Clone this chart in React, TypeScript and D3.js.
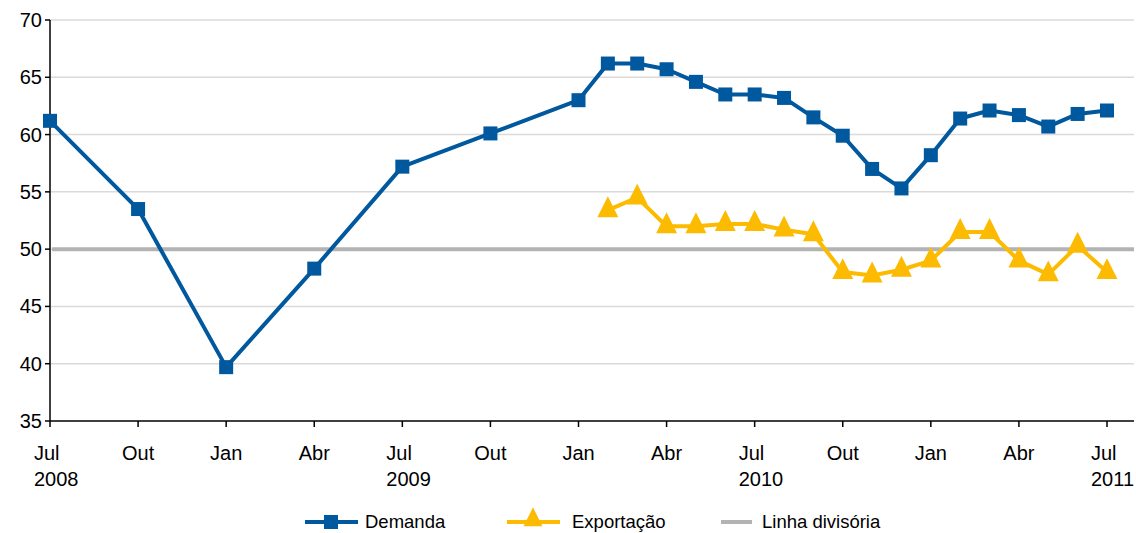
import React from "react";
import * as d3 from "d3";

// month index 0 = Jul 2008
const demandaMonths = [0, 3, 6, 9, 12, 15, 18, 19, 20, 21, 22, 23, 24, 25, 26, 27, 28, 29, 30, 31, 32, 33, 34, 35, 36];
const demandaValues = [61.2, 53.5, 39.7, 48.3, 57.2, 60.1, 63.0, 66.2, 66.2, 65.7, 64.6, 63.5, 63.5, 63.2, 61.5, 59.9, 57.0, 55.3, 58.2, 61.4, 62.1, 61.7, 60.7, 61.8, 62.1];

const exportMonths = [19, 20, 21, 22, 23, 24, 25, 26, 27, 28, 29, 30, 31, 32, 33, 34, 35, 36];
const exportValues = [53.4, 54.5, 52.0, 52.0, 52.2, 52.2, 51.7, 51.3, 48.0, 47.7, 48.2, 49.0, 51.5, 51.5, 49.0, 47.8, 50.3, 48.0];

const divisoria = 50;

const tickMonths = [0, 3, 6, 9, 12, 15, 18, 21, 24, 27, 30, 33, 36];
const tickLabels = ["Jul", "Out", "Jan", "Abr", "Jul", "Out", "Jan", "Abr", "Jul", "Out", "Jan", "Abr", "Jul"];
const yearLabels = ["2008", "", "", "", "2009", "", "", "", "2010", "", "", "", "2011"];
const yTicks = [35, 40, 45, 50, 55, 60, 65, 70];

const BLUE = "#00589e";
const YELLOW = "#fcbb00";
const GRAY = "#b3b3b3";
const FONT = "'Liberation Sans', Arial, sans-serif";

const App: React.FC = () => {
  const width = 1136;
  const height = 533;
  const left = 50;
  const rightEnd = 1134;
  const x = d3.scaleLinear().domain([0, 36]).range([left, 1107]);
  const y = d3.scaleLinear().domain([35, 70]).range([421, 20]);

  const line = d3
    .line<[number, number]>()
    .x((d) => x(d[0]))
    .y((d) => y(d[1]));

  const demanda: [number, number][] = demandaMonths.map((m, i) => [m, demandaValues[i]]);
  const exportacao: [number, number][] = exportMonths.map((m, i) => [m, exportValues[i]]);

  const tri = d3.symbol().type(d3.symbolTriangle).size(190)() as string;

  return (
    <svg width={width} height={height} style={{ position: "absolute", left: 0, top: 0 }} fontFamily={FONT}>
      <rect width={width} height={height} fill="#fff" />
      {/* grid */}
      {yTicks.slice(1).map((t) => (
        <line key={t} x1={left} x2={rightEnd} y1={y(t)} y2={y(t)} stroke="#dadada" strokeWidth={1.5} />
      ))}
      {/* y axis */}
      <line x1={left} x2={left} y1={y(70)} y2={y(35)} stroke="#000" strokeWidth={1.5} />
      {yTicks.map((t) => (
        <g key={t}>
          <line x1={left - 5} x2={left} y1={y(t)} y2={y(t)} stroke="#000" strokeWidth={1.5} />
          <text x={left - 8} y={y(t)} dy="0.35em" textAnchor="end" fontSize={20} fill="#000">
            {t}
          </text>
        </g>
      ))}
      {/* x axis */}
      <line x1={left} x2={rightEnd} y1={y(35)} y2={y(35)} stroke="#000" strokeWidth={1.5} />
      {tickMonths.map((m, i) => {
        const hasYear = yearLabels[i] !== "";
        const tx = hasYear ? x(m) - 16 : x(m);
        const anchor = hasYear ? "start" : "middle";
        return (
          <g key={m}>
            <line x1={x(m)} x2={x(m)} y1={y(35)} y2={y(35) + 6} stroke="#000" strokeWidth={1.5} />
            <text x={tx} y={460} textAnchor={anchor} fontSize={20} fill="#000">
              {tickLabels[i]}
            </text>
            {hasYear && (
              <text x={tx} y={486} textAnchor={anchor} fontSize={20} fill="#000">
                {yearLabels[i]}
              </text>
            )}
          </g>
        );
      })}
      {/* divisoria */}
      <line x1={left + 2} x2={rightEnd} y1={y(divisoria)} y2={y(divisoria)} stroke={GRAY} strokeWidth={4} />
      {/* demanda */}
      <path d={line(demanda) as string} fill="none" stroke={BLUE} strokeWidth={4} strokeLinejoin="round" />
      {demanda.map((d, i) => (
        <rect key={i} x={x(d[0]) - 7} y={y(d[1]) - 7} width={14} height={14} fill={BLUE} />
      ))}
      {/* exportacao */}
      <path d={line(exportacao) as string} fill="none" stroke={YELLOW} strokeWidth={4} strokeLinejoin="round" />
      {exportacao.map((d, i) => (
        <path key={i} d={tri} transform={`translate(${x(d[0])},${y(d[1])}) scale(1,1.15)`} fill={YELLOW} />
      ))}
      {/* legend */}
      <g fontSize={18.5} fill="#000">
        <line x1={305} x2={358} y1={522} y2={522} stroke={BLUE} strokeWidth={4} />
        <rect x={324} y={515} width={14} height={14} fill={BLUE} />
        <text x={365} y={522} dy="0.35em">Demanda</text>
        <line x1={507} x2={560} y1={522} y2={522} stroke={YELLOW} strokeWidth={4} />
        <path d={tri} transform={`translate(533,520) scale(0.9,1.05)`} fill={YELLOW} />
        <text x={572} y={522} dy="0.35em">Exportação</text>
        <line x1={721} x2={752} y1={522} y2={522} stroke={GRAY} strokeWidth={4} />
        <text x={762} y={522} dy="0.35em">Linha divisória</text>
      </g>
    </svg>
  );
};

export default App;
